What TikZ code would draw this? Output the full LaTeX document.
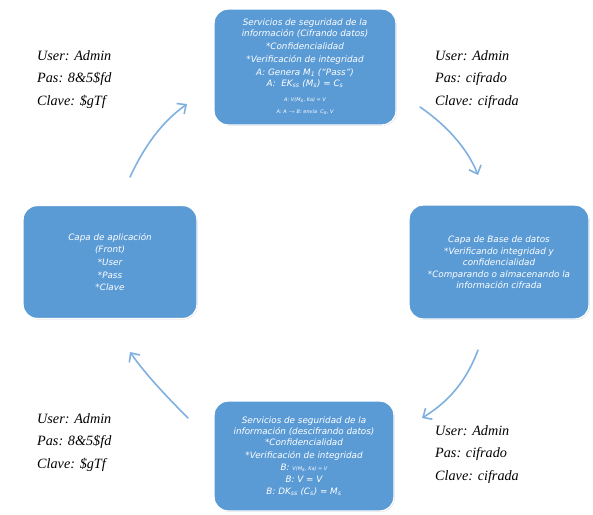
\documentclass[tikz,border=0pt]{standalone}
\usepackage{fontspec}
\setmainfont{Liberation Serif}
\newfontfamily\boxfont{DejaVu Sans}
\usetikzlibrary{arrows.meta,shadows}
\definecolor{boxblue}{HTML}{5B9BD5}
\definecolor{flowblue}{HTML}{7FB0E0}
\tikzset{
  layerbox/.style={rounded corners=14pt, fill=boxblue, draw=white, line width=1.4pt,
    drop shadow={shadow xshift=0.8pt, shadow yshift=-0.8pt, opacity=0.35, fill=gray},
    text=white, align=center, inner sep=2pt,
    font=\boxfont\itshape\fontsize{8.8}{12.6}\selectfont},
  userlabel/.style={anchor=north west, align=left, inner sep=0pt,
    font=\itshape\fontsize{14.2}{22.5}\selectfont},
  flow/.style={draw=flowblue, line width=1.6pt, line cap=round,
    -{Straight Barb[length=7pt,width=13pt,line width=1.6pt]}},
}
\newcommand{\smallline}{\fontsize{5}{9}\selectfont}
\begin{document}
\begin{tikzpicture}[x=1pt,y=-1pt]
\useasboundingbox (0,0) rectangle (593,514);

% four processing stages
\node[layerbox, minimum width=182pt, minimum height=116pt] (cifrado) at (305,67)
  {Servicios de seguridad de la\\[-2pt] información (Cifrando datos)\\[1pt]
   *Confidencialidad\\ *Verificación de integridad\\
   A: Genera M\textsubscript{1} (“Pass”)\\[-1pt]
   A:\ \ EK\textsubscript{ss} (M\textsubscript{s}) = C\textsubscript{s}\\[2pt]
   {\smallline A: V(M\textsubscript{s}, Ka) = V}\\
   {\smallline A: A $\rightarrow$ B: envía\ \ C\textsubscript{s}, V}};

\node[layerbox, minimum width=180pt, minimum height=114pt] (basedatos) at (499,262)
  {Capa de Base de datos\\ *Verificando integridad y\\[-2pt] confidencialidad\\
   *Comparando o almacenando la\\[-2pt] información cifrada};

\node[layerbox, minimum width=174pt, minimum height=113pt] (aplicacion) at (110,262)
  {Capa de aplicación\\ (Front)\\ *User\\ *Pass\\ *Clave};

\node[layerbox, minimum width=180pt, minimum height=110pt] (descifrado) at (304,456)
  {Servicios de seguridad de la\\[-2pt] información (descifrando datos)\\[-1pt]
   *Confidencialidad\\ *Verificación de integridad\\
   B: {\smallline V(M\textsubscript{s}, Ka) = V}\\[-1pt]
   B: V = V\\[-1pt]
   B: DK\textsubscript{ss} (C\textsubscript{s}) = M\textsubscript{s}};

% credentials as seen at each step
\node[userlabel] (plainA) at (37,50) {User: Admin\\ Pas: 8\&5\$fd\\ Clave: \$gTf};
\node[userlabel] (encA) at (435,50) {User: Admin\\ Pas: cifrado\\ Clave: cifrada};
\node[userlabel] (plainB) at (37,413) {User: Admin\\ Pas: 8\&5\$fd\\ Clave: \$gTf};
\node[userlabel] (encB) at (435,425) {User: Admin\\ Pas: cifrado\\ Clave: cifrada};

% cycle arrows
\coordinate (a1) at (130,177); \coordinate (a2) at (187,104);
\coordinate (b1) at (420,107); \coordinate (b2) at (478,175);
\coordinate (c1) at (478,350); \coordinate (c2) at (422,418);
\coordinate (d1) at (188,418); \coordinate (d2) at (130,352);
\draw[flow] (a1) .. controls (145,145) and (162,122) .. (a2);
\draw[flow] (b1) .. controls (442,122) and (466,145) .. (b2);
\draw[flow] (c1) .. controls (466,382) and (448,402) .. (c2);
\draw[flow] (d1) .. controls (168,398) and (146,375) .. (d2);
\end{tikzpicture}
\end{document}
